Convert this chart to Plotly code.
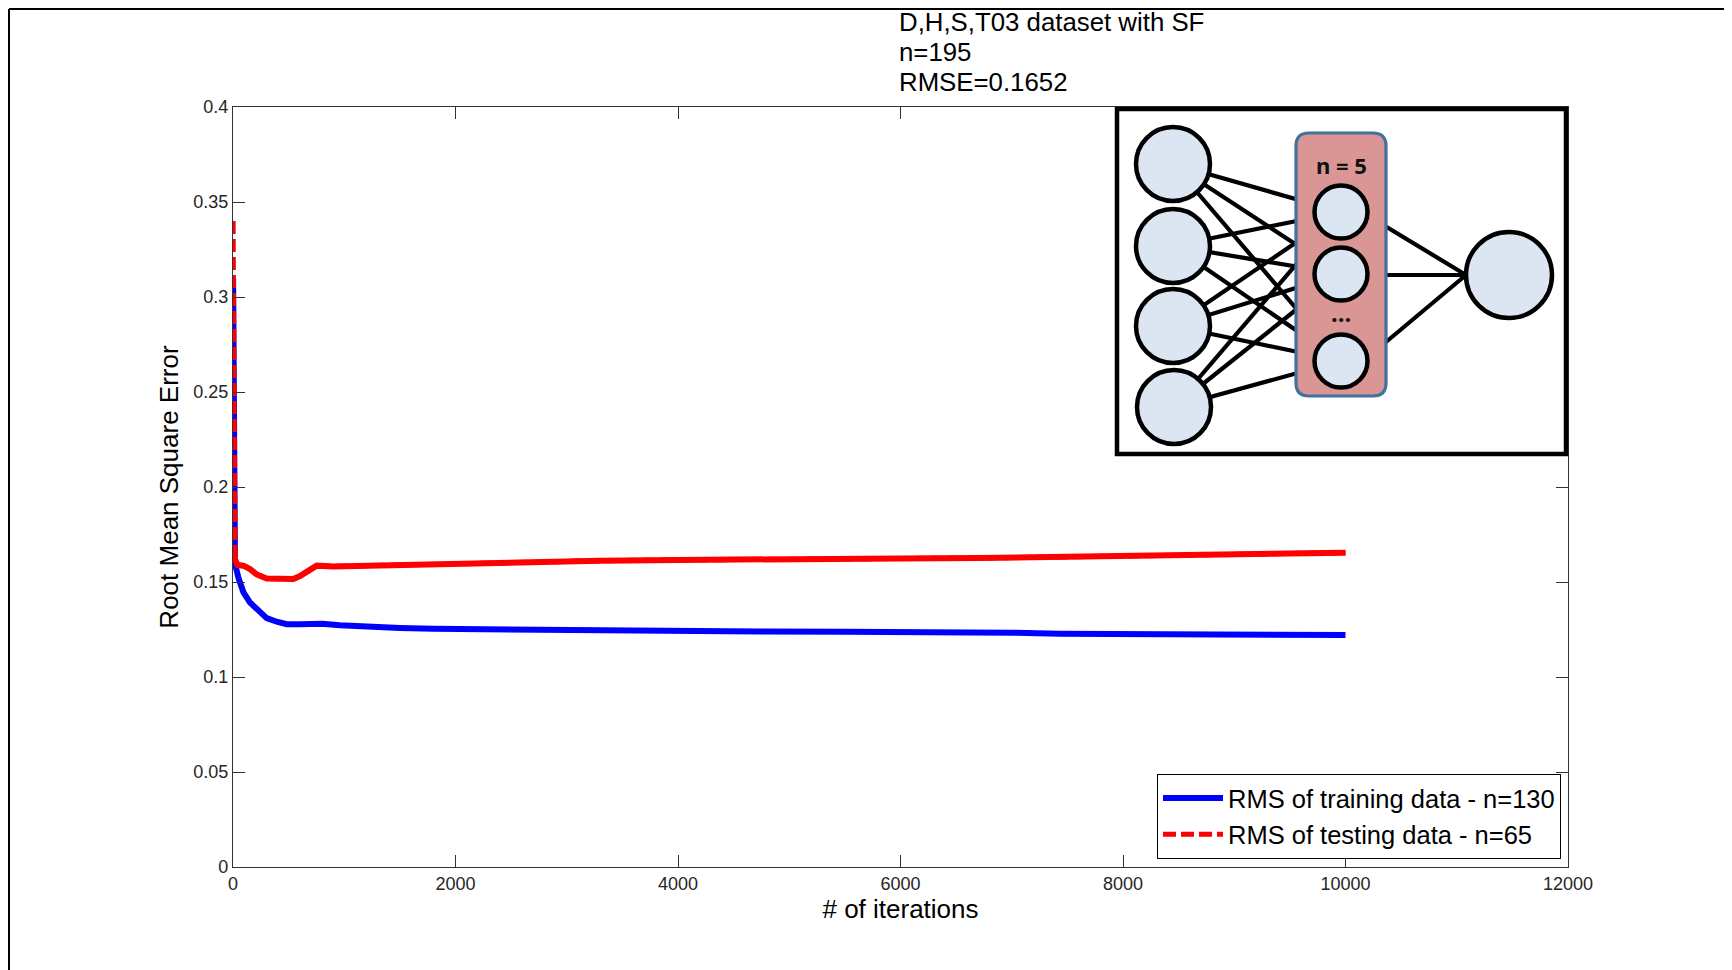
import plotly.graph_objects as go

# ---------------- data ----------------
train_iter = [1, 4, 7, 9, 18, 50, 93, 153, 243, 303, 393, 483, 600, 692, 800, 962,
              1202, 1501, 1801, 2200, 2700, 3300, 4000, 4735, 5500, 6000, 6533, 6713,
              7000, 7428, 8000, 8627, 9200, 9827, 10000]
train_rmse = [0.310, 0.260, 0.190, 0.177, 0.1595, 0.152, 0.1447, 0.1392, 0.1337, 0.1310,
              0.1291, 0.1278, 0.1278, 0.1282, 0.1280, 0.1272,
              0.1263, 0.1258, 0.1254, 0.1251, 0.1248, 0.1245, 0.1242, 0.1239, 0.1238,
              0.1238, 0.1240, 0.1238, 0.1233, 0.1228, 0.1228, 0.1228, 0.1225, 0.1221, 0.1221]

test_iter = [1, 4, 7, 10, 18, 40, 93, 153, 213, 303, 420, 542, 602, 692, 752, 902,
             1202, 1501, 1801, 2100, 2700, 3300, 4000, 4735, 5500, 6000, 6713, 7428,
             8000, 8627, 9200, 9827, 10000]
test_rmse = [0.340, 0.260, 0.200, 0.169, 0.162, 0.159, 0.1586, 0.1568, 0.1540, 0.1518,
             0.1515, 0.1516, 0.1531, 0.1568, 0.1586, 0.1582,
             0.1586, 0.1590, 0.1595, 0.1600, 0.1605, 0.1612, 0.1616, 0.1621, 0.1623,
             0.1624, 0.1626, 0.1632, 0.1635, 0.1640, 0.1645, 0.1653, 0.1654]

x_ticks = [0, 2000, 4000, 6000, 8000, 10000, 12000]
y_ticks = [0, 0.05, 0.1, 0.15, 0.2, 0.25, 0.3, 0.35, 0.4]
y_tick_text = ["0", "0.05", "0.1", "0.15", "0.2", "0.25", "0.3", "0.35", "0.4"]
title_lines = ["D,H,S,T03 dataset with SF", "n=195", "RMSE=0.1652"]
train_name = "RMS of training data - n=130"
test_name = "RMS of testing data - n=65"
hidden_label = "n = 5"

# ---------------- layout geometry ----------------
OFF = 8                     # page body margin
W, H = 1732 - OFF, 970 - OFF
L, R, T, B = 225, 164, 99, 103
PW, PH = W - L - R, H - T - B
FONT = "Liberation Sans, Arial, sans-serif"


def px(x):
    """page x pixel -> paper fraction"""
    return (x - OFF - L) / PW


def py(y):
    """page y pixel -> paper fraction"""
    return (H - B - (y - OFF)) / PH


fig = go.Figure()

fig.add_trace(go.Scatter(x=train_iter, y=train_rmse, mode="lines", name=train_name,
                         line=dict(color="#0000FF", width=6)))
fig.add_trace(go.Scatter(x=test_iter, y=test_rmse, mode="lines", name=test_name,
                         line=dict(color="#FF0000", width=5, dash="13px,5px")))
# dense noisy plateau of the testing curve looks solid in the reference
plateau = [i for i, v in enumerate(test_iter) if v >= 10]
fig.add_trace(go.Scatter(x=[test_iter[i] for i in plateau], y=[test_rmse[i] for i in plateau],
                         mode="lines", showlegend=False, hoverinfo="skip",
                         line=dict(color="#FF0000", width=6)))

shapes = []
# figure border (top and left)
shapes.append(dict(type="line", xref="paper", yref="paper", x0=px(9), y0=py(9),
                   x1=px(1732), y1=py(9), line=dict(color="black", width=2)))
shapes.append(dict(type="line", xref="paper", yref="paper", x0=px(9), y0=py(9),
                   x1=px(9), y1=py(970), line=dict(color="black", width=2)))

# ---------------- inset network diagram ----------------
shapes.append(dict(type="rect", xref="paper", yref="paper", x0=px(1117), y0=py(109),
                   x1=px(1566), y1=py(454), fillcolor="white",
                   line=dict(color="black", width=4.5), layer="above"))

inputs = [(1173, 164), (1173, 246), (1173, 326), (1174, 407)]
hidden = [(1341, 212), (1341, 274), (1341, 361)]
out_c = (1509, 275)
for (ix, iy) in inputs:
    for (hx, hy) in hidden:
        shapes.append(dict(type="line", xref="paper", yref="paper", x0=px(ix), y0=py(iy),
                           x1=px(hx), y1=py(hy), line=dict(color="black", width=4.2),
                           layer="above"))
for sy in (223, 275, 347):
    shapes.append(dict(type="line", xref="paper", yref="paper", x0=px(1380), y0=py(sy),
                       x1=px(out_c[0] - 43), y1=py(out_c[1]),
                       line=dict(color="black", width=4.2), layer="above"))

# hidden layer rounded box
bx0, by0, bx1, by1, rr = 1296, 133, 1386, 396, 13
path = (f"M {px(bx0 + rr)},{py(by0)} L {px(bx1 - rr)},{py(by0)} "
        f"Q {px(bx1)},{py(by0)} {px(bx1)},{py(by0 + rr)} "
        f"L {px(bx1)},{py(by1 - rr)} Q {px(bx1)},{py(by1)} {px(bx1 - rr)},{py(by1)} "
        f"L {px(bx0 + rr)},{py(by1)} Q {px(bx0)},{py(by1)} {px(bx0)},{py(by1 - rr)} "
        f"L {px(bx0)},{py(by0 + rr)} Q {px(bx0)},{py(by0)} {px(bx0 + rr)},{py(by0)} Z")
shapes.append(dict(type="path", xref="paper", yref="paper", path=path,
                   fillcolor="#D99694", line=dict(color="#41719C", width=3.2), layer="above"))


def circle(cx, cy, r):
    return dict(type="circle", xref="paper", yref="paper", x0=px(cx - r), x1=px(cx + r),
                y0=py(cy + r), y1=py(cy - r), fillcolor="#DCE6F2",
                line=dict(color="black", width=4.5), layer="above")


for (ix, iy) in inputs:
    shapes.append(circle(ix, iy, 37))
for (hx, hy) in hidden:
    shapes.append(circle(hx, hy, 26.5))
shapes.append(circle(out_c[0], out_c[1], 43))

annotations = []
for i, txt in enumerate(title_lines):
    annotations.append(dict(text=txt, xref="paper", yref="paper", x=px(897), y=py(22 + 30 * i),
                            xanchor="left", yanchor="middle", showarrow=False,
                            font=dict(family=FONT, size=25.8, color="black")))
annotations.append(dict(text="<b>" + hidden_label + "</b>", xref="paper", yref="paper",
                        x=px(1341), y=py(165), xanchor="center", yanchor="middle",
                        showarrow=False, font=dict(family="Noto Sans, sans-serif", size=22,
                                                   color="#111111")))
annotations.append(dict(text="<b>...</b>", xref="paper", yref="paper",
                        x=px(1341), y=py(312), xanchor="center", yanchor="middle",
                        showarrow=False, font=dict(family="Noto Sans, sans-serif", size=24,
                                                   color="#111111")))

axis_common = dict(showgrid=False, zeroline=False, showline=True, linecolor="#333333",
                   linewidth=1.3, mirror="ticks", ticks="inside", ticklen=12,
                   tickcolor="#333333", tickwidth=1.3,
                   tickfont=dict(family=FONT, size=18, color="#262626"))

fig.update_layout(
    width=W, height=H,
    margin=dict(l=L, r=R, t=T, b=B, autoexpand=False),
    paper_bgcolor="white", plot_bgcolor="white",
    font=dict(family=FONT, color="black"),
    xaxis=dict(range=[0, 12000], tickvals=x_ticks, ticktext=[str(v) for v in x_ticks],
               title=dict(text="# of iterations", font=dict(family=FONT, size=26, color="black"),
                          standoff=7),
               **axis_common),
    yaxis=dict(range=[0, 0.4], tickvals=y_ticks, ticktext=y_tick_text,
               title=dict(text="Root Mean Square Error",
                          font=dict(family=FONT, size=26, color="black"), standoff=7),
               **axis_common),
    legend=dict(x=px(1561), y=py(859), xanchor="right", yanchor="bottom",
                bgcolor="white", bordercolor="black", borderwidth=1,
                font=dict(family=FONT, size=25.5, color="black"),
                itemwidth=60, tracegroupgap=0),
    shapes=shapes,
    annotations=annotations,
    showlegend=True,
)

fig.write_html("out.html")
